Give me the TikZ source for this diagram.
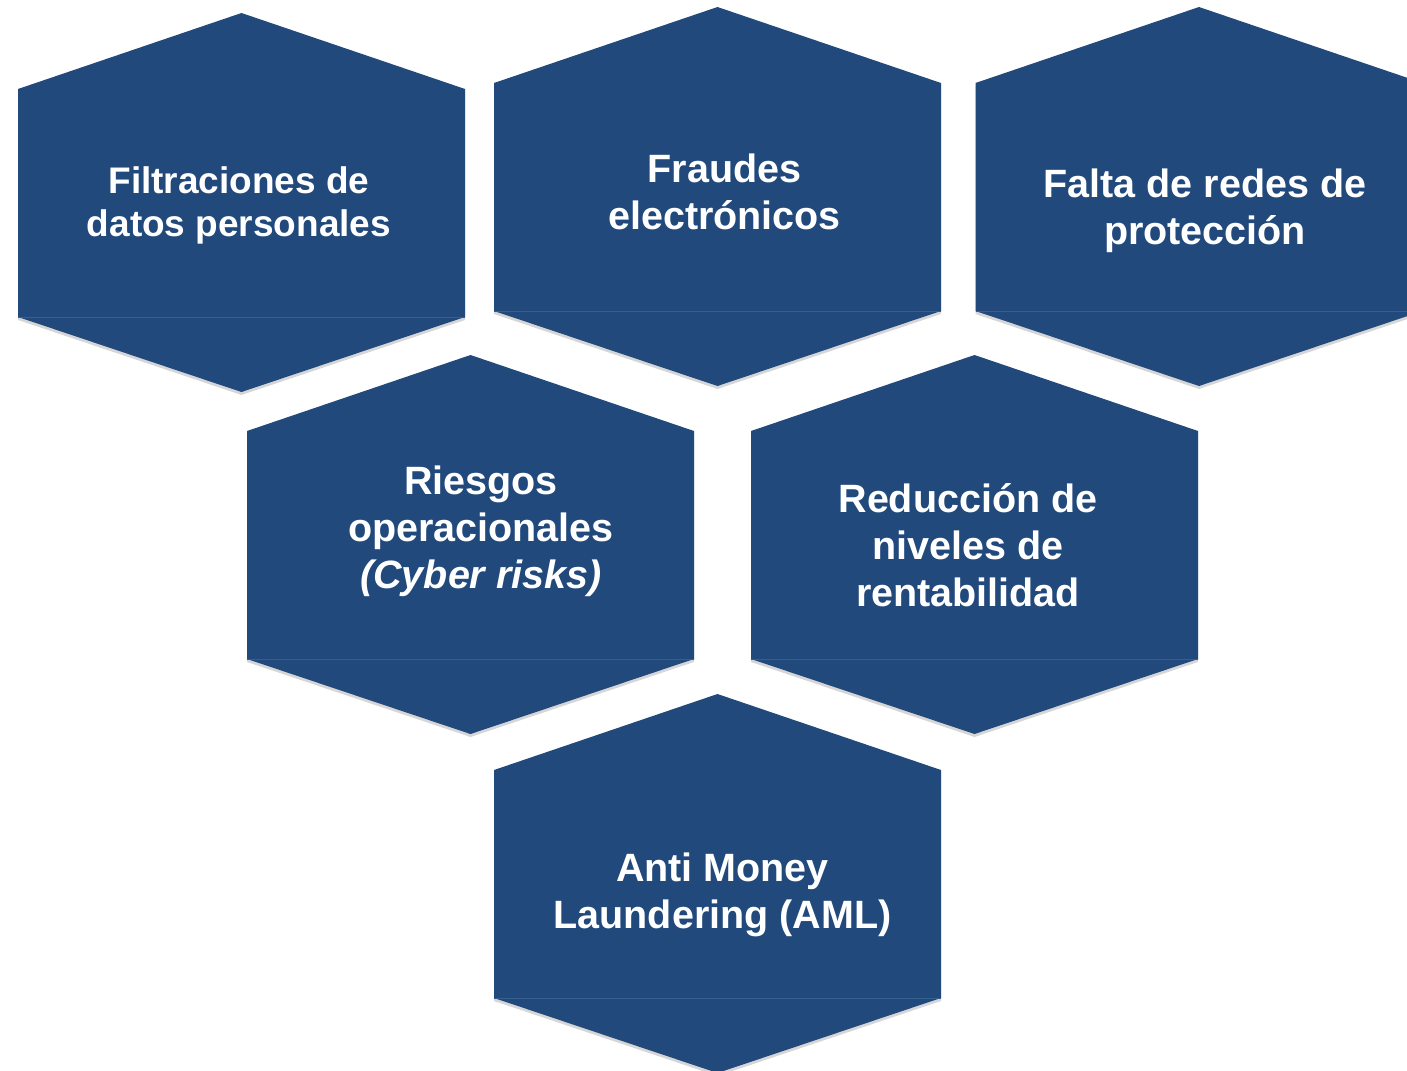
\documentclass[tikz,border=0pt]{standalone}
\usepackage{fontspec}
\setmainfont{Liberation Sans}
\usepackage{xcolor}
\usepackage{tikz}
\definecolor{hexblue}{RGB}{33,73,124}
\definecolor{hexseam}{RGB}{52,95,142}

\begin{document}
\begin{tikzpicture}[x=1pt,y=-1pt,
        hexfill/.style={fill=hexblue},
        hexshade/.style={fill=black,opacity=0.16},
        hexseamline/.style={draw=hexseam,line width=0.9pt},
        risk/.style={text=white,font=\bfseries\fontsize{39.5}{47}\selectfont,align=center,inner sep=0pt}]
            \useasboundingbox (0,0) rectangle (1407,1070);
            \clip (0,0) rectangle (1407,1070);
            % hexagons: centre x / top apex y
            \foreach \cx/\ty in {241.5/13, 717.5/7, 1199/7, 470.5/355, 974.5/355, 717.5/694}{
                \fill[hexshade] (\cx,\ty+3) -- (\cx+223.5,\ty+79) -- (\cx+223.5,\ty+307) -- (\cx,\ty+382)
                    -- (\cx-223.5,\ty+307) -- (\cx-223.5,\ty+79) -- cycle;
                \fill[hexfill] (\cx,\ty) -- (\cx+223.5,\ty+76) -- (\cx+223.5,\ty+304) -- (\cx,\ty+379)
                    -- (\cx-223.5,\ty+304) -- (\cx-223.5,\ty+76) -- cycle;
                \draw[hexseamline] (\cx-223.5,\ty+304) -- (\cx+223.5,\ty+304);
            }
            \node[risk,font=\bfseries\fontsize{37}{43}\selectfont] (filtraciones) at (239,205) {Filtraciones de\\datos personales};
            \node[risk] (fraudes) at (724.5,191.5) {Fraudes\\electrónicos};
            \node[risk] (falta) at (1205,210.5) {Falta de redes de\\protección};
            \node[risk] (riesgos) at (481,531.5) {Riesgos\\operacionales\\\textit{(Cyber risks)}};
            \node[risk] (reduccion) at (968,545) {Reducción de\\niveles de\\rentabilidad};
            \node[risk] (aml) at (722.5,895) {Anti Money\\Laundering (AML)};
        \end{tikzpicture}
\end{document}
